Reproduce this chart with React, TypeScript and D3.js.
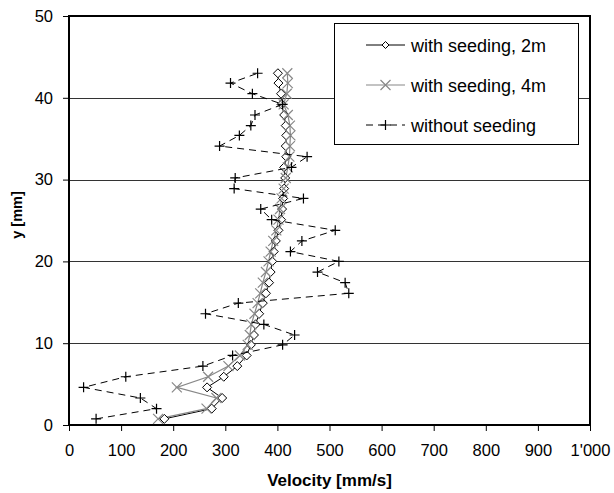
import React, { useEffect, useRef } from 'react';
import * as d3 from 'd3';

// heights [mm] of the measuring points
const heights = [0.75, 2.0, 3.3, 4.6, 5.9, 7.2, 8.5, 9.8, 11.0, 12.3, 13.6, 14.9, 16.1, 17.4, 18.7, 20.0, 21.2,
  22.5, 23.8, 25.1, 26.4, 27.7, 28.9, 30.2, 31.5, 32.8, 34.1, 35.4, 36.6, 37.9, 39.2, 40.5, 41.8, 43.0];

// velocities [mm/s]
const seeding2m = [183, 274, 294, 265, 297, 323, 341, 349, 355, 358, 365, 372, 378, 384, 387, 390, 393,
  397, 402, 407, 409, 411, 413, 415, 413, 417, 416, 417, 416, 413, 408, 407, 402, 401];
const seeding4m = [171, 264, 283, 207, 267, 306, 328, 343, 347, 350, 356, 362, 367, 372, 378, 383, 387,
  392, 398, 402, 405, 408, 412, 416, 420, 423, 424, 425, 424, 420, 412, 418, 420, 419];
const noSeeding = [52, 168, 137, 28, 109, 257, 314, 410, 433, 374, 262, 325, 537, 530, 477, 518, 425,
  447, 511, 389, 368, 450, 317, 319, 427, 457, 289, 327, 349, 357, 410, 352, 310, 362];

const xTicks = [0, 100, 200, 300, 400, 500, 600, 700, 800, 900, 1000];
const yTicks = [0, 10, 20, 30, 40, 50];
const legendLabels = ['with seeding, 2m', 'with seeding, 4m', 'without seeding'];

const FONT = 'Liberation Sans, Arial, sans-serif';

const App = () => {
  const svgRef = useRef<SVGSVGElement>(null);

  useEffect(() => {
    document.body.style.margin = '0';
    const svg = d3.select(svgRef.current);
    svg.selectAll('*').remove();

    const width = 614;
    const height = 493;
    const margin = { top: 16, right: 24, bottom: 68, left: 69 };

    const x = d3.scaleLinear().domain([0, 1000]).range([margin.left, width - margin.right]);
    const y = d3.scaleLinear().domain([0, 50]).range([height - margin.bottom, margin.top]);

    svg.append('rect').attr('width', width).attr('height', height).attr('fill', '#fff');

    // gridlines
    svg.append('g')
      .selectAll('line')
      .data(yTicks.slice(1, -1))
      .join('line')
      .attr('x1', x(0)).attr('x2', x(1000))
      .attr('y1', d => Math.round(y(d)) + 0.5).attr('y2', d => Math.round(y(d)) + 0.5)
      .attr('stroke', '#333').attr('stroke-width', 1);

    // axes
    const xAxis = svg.append('g')
      .attr('transform', `translate(0,${y(0)})`)
      .call(d3.axisBottom(x).tickValues(xTicks).tickSize(6).tickPadding(13)
        .tickFormat(d => (+d >= 1000 ? d3.format(',')(+d).replace(',', "'") : String(d))));
    xAxis.select('.domain').remove();
    xAxis.selectAll('.tick line').attr('stroke', '#000');
    xAxis.selectAll('.tick text').attr('fill', '#000').attr('font-size', '16.5px').attr('font-family', FONT);

    const yAxis = svg.append('g')
      .attr('transform', `translate(${x(0)},0)`)
      .call(d3.axisLeft(y).tickValues(yTicks).tickSize(6).tickPadding(10));
    yAxis.select('.domain').remove();
    yAxis.selectAll('.tick line').attr('stroke', '#000');
    yAxis.selectAll('.tick text').attr('fill', '#000').attr('font-size', '16.5px').attr('font-family', FONT);

    // plot border
    svg.append('rect')
      .attr('x', x(0)).attr('y', y(50))
      .attr('width', x(1000) - x(0)).attr('height', y(0) - y(50))
      .attr('fill', 'none').attr('stroke', '#000').attr('stroke-width', 2);

    const line = d3.line<[number, number]>().x(d => x(d[0])).y(d => y(d[1]));
    const pts = (vals: number[]) => vals.map((v, i) => [v, heights[i]] as [number, number]);

    const diamond = (s: number) => `M0,${-s}L${s},0L0,${s}L${-s},0Z`;
    const cross = (s: number) => `M${-s},${-s}L${s},${s}M${-s},${s}L${s},${-s}`;
    const plus = (s: number) => `M${-s},0L${s},0M0,${-s}L0,${s}`;

    // with seeding, 2m
    svg.append('path').datum(pts(seeding2m)).attr('d', line)
      .attr('fill', 'none').attr('stroke', '#000').attr('stroke-width', 1);

    // with seeding, 4m
    svg.append('path').datum(pts(seeding4m)).attr('d', line)
      .attr('fill', 'none').attr('stroke', '#888').attr('stroke-width', 1.2);

    svg.append('g').selectAll('path')
      .data(pts(seeding2m))
      .join('path')
      .attr('transform', d => `translate(${x(d[0])},${y(d[1])})`)
      .attr('d', diamond(4.5))
      .attr('fill', '#fff').attr('stroke', '#000').attr('stroke-width', 1);

    svg.append('g').selectAll('path')
      .data(pts(seeding4m))
      .join('path')
      .attr('transform', d => `translate(${x(d[0])},${y(d[1])})`)
      .attr('d', cross(5))
      .attr('fill', 'none').attr('stroke', '#888').attr('stroke-width', 1.2);

    // without seeding
    svg.append('path').datum(pts(noSeeding)).attr('d', line)
      .attr('fill', 'none').attr('stroke', '#000').attr('stroke-width', 1).attr('stroke-dasharray', '7,5');

    svg.append('g').selectAll('path')
      .data(pts(noSeeding))
      .join('path')
      .attr('transform', d => `translate(${x(d[0])},${y(d[1])})`)
      .attr('d', plus(5))
      .attr('fill', 'none').attr('stroke', '#000').attr('stroke-width', 1.2);

    // axis titles
    svg.append('text')
      .attr('x', (x(0) + x(1000)) / 2).attr('y', 486)
      .attr('text-anchor', 'middle').attr('font-size', '17px').attr('font-weight', 'bold')
      .attr('font-family', FONT).text('Velocity [mm/s]');

    svg.append('text')
      .attr('transform', `translate(22,215) rotate(-90)`)
      .attr('text-anchor', 'middle').attr('font-size', '14.5px').attr('font-weight', 'bold')
      .attr('font-family', FONT).text('y [mm]');

    // legend
    const legend = svg.append('g').attr('transform', 'translate(334,23)');
    legend.append('rect').attr('x', 0.5).attr('y', 0.5).attr('width', 244).attr('height', 121)
      .attr('fill', '#fff').attr('stroke', '#000').attr('stroke-width', 1);

    legendLabels.forEach((label, i) => {
      const ly = 22 + i * 40;
      const row = legend.append('g').attr('transform', `translate(0,${ly})`);
      const color = i === 1 ? '#888' : '#000';
      row.append('line').attr('x1', 32).attr('x2', 71).attr('y1', 0).attr('y2', 0)
        .attr('stroke', color).attr('stroke-width', i === 1 ? 1.2 : 1)
        .attr('stroke-dasharray', i === 2 ? '7,5' : null);
      if (i === 0) {
        row.append('path').attr('transform', 'translate(51.5,0)').attr('d', diamond(3.5))
          .attr('fill', '#fff').attr('stroke', '#000');
      } else if (i === 1) {
        row.append('path').attr('transform', 'translate(51.5,0)').attr('d', cross(5))
          .attr('fill', 'none').attr('stroke', '#888').attr('stroke-width', 1.2);
      } else {
        row.append('path').attr('transform', 'translate(51.5,0)').attr('d', plus(5))
          .attr('fill', 'none').attr('stroke', '#000').attr('stroke-width', 1.2);
      }
      row.append('text').attr('x', 77).attr('y', 6.5).attr('font-size', '18px')
        .attr('font-family', FONT).attr('fill', '#000').text(label);
    });
  }, []);

  return (
    <svg ref={svgRef} width={614} height={493} viewBox="0 0 614 493"
      style={{ position: 'absolute', left: 0, top: 0, display: 'block' }} />
  );
};

export default App;
